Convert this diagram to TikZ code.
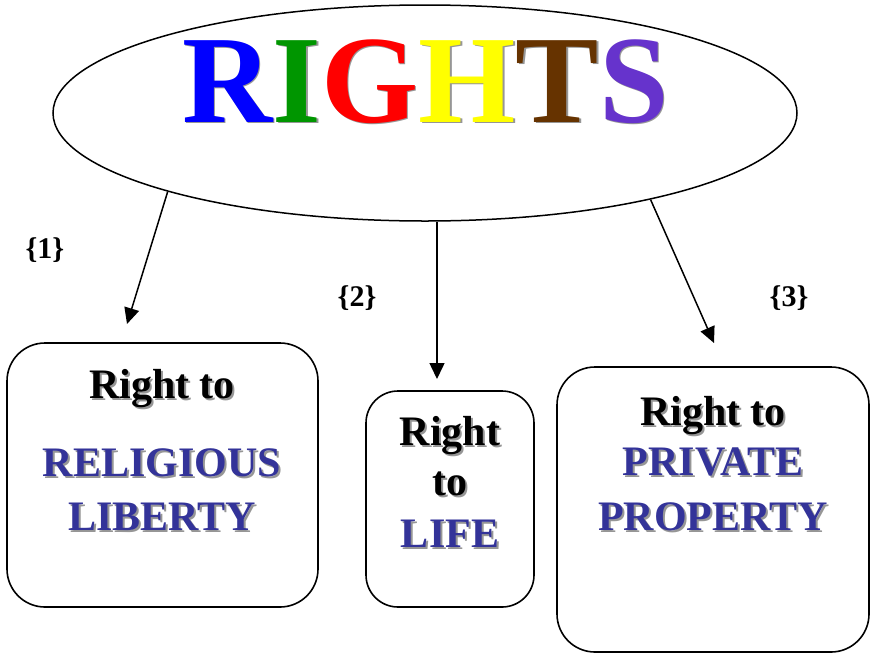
\documentclass[tikz,border=0pt]{standalone}
\usepackage{fontspec}
\setmainfont{Liberation Serif}
\usetikzlibrary{shapes.geometric,arrows.meta}

\definecolor{navytext}{RGB}{51,51,153}
\definecolor{shadowgray}{RGB}{150,150,150}
\definecolor{rblue}{RGB}{0,0,255}
\definecolor{rgreen}{RGB}{0,150,0}
\definecolor{rred}{RGB}{255,0,0}
\definecolor{ryellow}{RGB}{255,255,0}
\definecolor{rbrown}{RGB}{102,51,0}
\definecolor{rpurple}{RGB}{102,51,204}

% text with a soft grey drop shadow behind it
\newcommand\dropshadowed[2]{\leavevmode\rlap{\kern2pt\raisebox{-2pt}{\textcolor{shadowgray}{#2}}}\textcolor{#1}{#2}}
% the title word, one colour per letter
\newcommand\titleword[6]{\textcolor{#1}{R}\textcolor{#2}{I}\textcolor{#3}{G}\textcolor{#4}{H}\textcolor{#5}{T}\textcolor{#6}{S}}

\tikzset{
  rightbox/.style={draw=black, line width=1.6pt, rounded corners=38pt, inner sep=0pt},
  boxline/.style={anchor=base, inner sep=0pt, font=\fontsize{42}{50}\selectfont\bfseries},
  numlabel/.style={inner sep=0pt, font=\fontsize{30}{32}\selectfont\bfseries},
  link/.style={line width=1.5pt, -{Triangle[length=16pt,width=15pt]}},
}

\begin{document}
\begin{tikzpicture}[x=1pt,y=-1pt]
\useasboundingbox (0,0) rectangle (872,654);

% central ellipse and title
\node[draw=black, line width=1.5pt, ellipse, minimum width=744pt, minimum height=216pt, inner sep=0pt] (rights) at (425,113) {};
\node[anchor=base, inner sep=0pt, font=\fontsize{125}{130}\selectfont\bfseries] (title) at (425.5,122)
  {\leavevmode\rlap{\kern1.5pt\raisebox{-1.5pt}{\titleword{shadowgray}{shadowgray}{shadowgray}{shadowgray}{shadowgray}{shadowgray}}}\titleword{rblue}{rgreen}{rred}{ryellow}{rbrown}{rpurple}};

% the three boxes
\node[rightbox, minimum width=311pt, minimum height=264pt] (liberty) at (162.5,475) {};
\node[rightbox, rounded corners=32pt, minimum width=168pt, minimum height=216pt] (life) at (450,499) {};
\node[rightbox, minimum width=312pt, minimum height=285pt] (property) at (713,509.5) {};

% box texts
\node[boxline] (libA) at (162,398) {\dropshadowed{black}{Right to}};
\node[boxline] (libB) at (162,476) {\dropshadowed{navytext}{RELIGIOUS}};
\node[boxline] (libC) at (162,530) {\dropshadowed{navytext}{LIBERTY}};

\node[boxline] (lifeA) at (450,445) {\dropshadowed{black}{Right}};
\node[boxline] (lifeB) at (450,495) {\dropshadowed{black}{to}};
\node[boxline] (lifeC) at (450,547) {\dropshadowed{navytext}{LIFE}};

\node[boxline] (propA) at (713,425) {\dropshadowed{black}{Right to}};
\node[boxline] (propB) at (713,475) {\dropshadowed{navytext}{PRIVATE}};
\node[boxline] (propC) at (713,530) {\dropshadowed{navytext}{PROPERTY}};

% number labels
\node[numlabel] (n1) at (45,250) {\{1\}};
\node[numlabel] (n2) at (357,298) {\{2\}};
\node[numlabel] (n3) at (789,298) {\{3\}};

% arrow ends
\coordinate (e1) at (127,324);
\coordinate (e2) at (437,379);
\coordinate (e3) at (714,343);

\draw[link] (rights.197) -- (e1);
\draw[link] (rights.south -| e2) -- (e2);
\draw[link] (rights.339.3) -- (e3);
\end{tikzpicture}
\end{document}
